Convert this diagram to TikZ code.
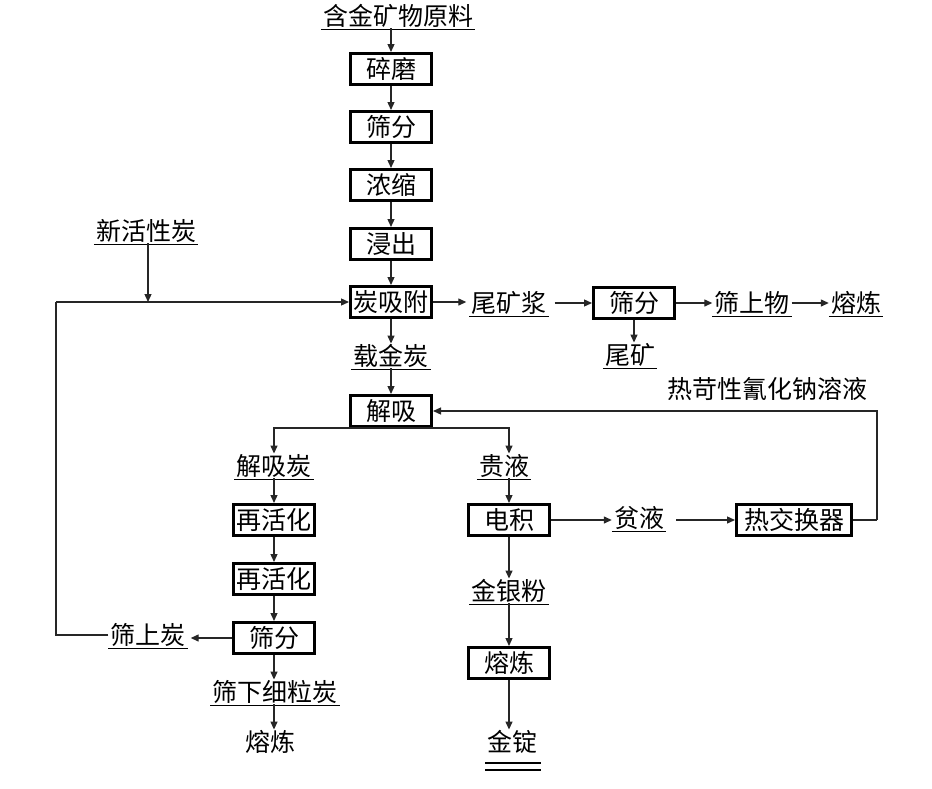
\documentclass[tikz,border=0pt]{standalone}
\usepackage{fontspec}
\newfontfamily\cjk{Noto Sans CJK SC}
\usetikzlibrary{arrows.meta}
\begin{document}
\begin{tikzpicture}[x=1pt,y=-1pt,
  every node/.style={font=\cjk\fontsize{25}{25}\selectfont},
  box/.style={draw, line width=3pt, minimum width=81pt, minimum height=31pt, inner sep=0pt},
  txt/.style={inner xsep=2pt, inner ysep=0pt, text height=21.5pt, text depth=3pt},
  uline/.style={line width=1.1pt, -},
  ul/.style={txt, append after command={([yshift=-1pt]\tikzlastnode.south west) edge[uline] ([yshift=-1pt]\tikzlastnode.south east)}},
  ln/.style={line width=1.3pt, black!85},
  arr/.style={ln, -{Triangle[length=8pt,width=7pt]}}
]
\useasboundingbox (0,0) rectangle (932,788);
% main column
\node[ul] (raw) at (398,16) {含金矿物原料};
\node[box] (b1) at (391,69) {碎磨};
\node[box] (b2) at (391,127) {筛分};
\node[box] (b3) at (391,185) {浓缩};
\node[box] (b4) at (391,244) {浸出};
\node[box] (b5) at (391,302) {炭吸附};
\node[ul] (zjt) at (391,356) {载金炭};
\node[box] (jx) at (391,411) {解吸};
% left
\node[ul] (xin) at (146,231) {新活性炭};
\coordinate (j1) at (148,302);
\coordinate (lc) at (56,302);
% right top
\node[ul] (wkj) at (509,303) {尾矿浆};
\node[box] (s2) at (634,303) {筛分};
\node[ul] (ssw) at (752,303) {筛上物};
\node[ul] (rl1) at (856,303) {熔炼};
\node[ul] (wk) at (630,355) {尾矿};
\node[txt] (hot) at (767,389) {热苛性氰化钠溶液};
% left branch
\node[ul] (jxt) at (274,466) {解吸炭};
\node[box] (r1) at (274,520) {再活化};
\node[box] (r2) at (274,579) {再活化};
\node[box] (s3) at (274,638) {筛分};
\node[ul] (szt) at (148,635) {筛上炭};
\node[ul] (sxx) at (275,692) {筛下细粒炭};
\node[txt] (rl2) at (270,742) {熔炼};
% right branch
\node[ul] (gy) at (504,466) {贵液};
\node[box] (dj) at (509,520) {电积};
\node[ul] (py) at (639,518) {贫液};
\node[box, minimum width=115pt] (hx) at (794,520) {热交换器};
\node[ul] (jyf) at (509,591) {金银粉};
\node[box] (rl3) at (509,663) {熔炼};
\node[txt] (jd) at (512,742) {金锭};
\coordinate (hxr) at (877,520);
% connectors main
\draw[arr] (raw.south -| b1.north) -- (b1.north);
\draw[arr] (b1) -- (b2);
\draw[arr] (b2) -- (b3);
\draw[arr] (b3) -- (b4);
\draw[arr] (b4) -- (b5);
\draw[arr] (b5) -- (zjt);
\draw[arr] (zjt) -- (jx);
% new carbon and loop
\draw[arr] (xin.south -| j1) -- (j1);
\draw[ln] (szt.west) -| (lc);
\draw[arr] (lc) -- (b5.west);
% tailings
\draw[arr, shorten >=3pt] (b5.east) -- (b5.east -| wkj.west);
\draw[arr, shorten <=6pt] (s2.west -| wkj.east) -- (s2.west);
\draw[arr] (s2.east) -- (s2.east -| ssw.west);
\draw[arr] (s2.east -| ssw.east) -- (s2.east -| rl1.west);
\draw[arr] (s2.south) -- (s2.south |- wk.north);
% desorption split
\draw[arr] (jx.south) -| (jxt.north);
\draw[arr] (jx.south) -| (dj.north |- gy.north);
\draw[arr] (jxt) -- (r1);
\draw[arr] (r1) -- (r2);
\draw[arr] (r2) -- (s3);
\draw[arr, shorten >=3pt] (s3.west) -- (szt.east |- s3.west);
\draw[arr] (s3.south) -- (s3.south |- sxx.north);
\draw[arr] (sxx.south -| s3.south) -- (s3.south |- rl2.north);
% electrowinning
\draw[arr] (dj.north |- gy.south) -- (dj.north);
\draw[arr] (dj.east) -- (dj.east -| py.west);
\draw[arr, shorten <=10pt] (hx.west -| py.east) -- (hx.west);
\draw[ln] (hx.east) -- (hxr);
\draw[arr] (hxr) |- (jx.east);
\draw[arr] (dj.south) -- (dj.south |- jyf.north);
\draw[arr] (jyf.south -| rl3.north) -- (rl3.north);
\draw[arr] (rl3.south) -- (rl3.south |- jd.north);
% double underline
\draw[uline] (485,763) -- (541,763);
\draw[uline] (485,770) -- (541,770);
\end{tikzpicture}
\end{document}
